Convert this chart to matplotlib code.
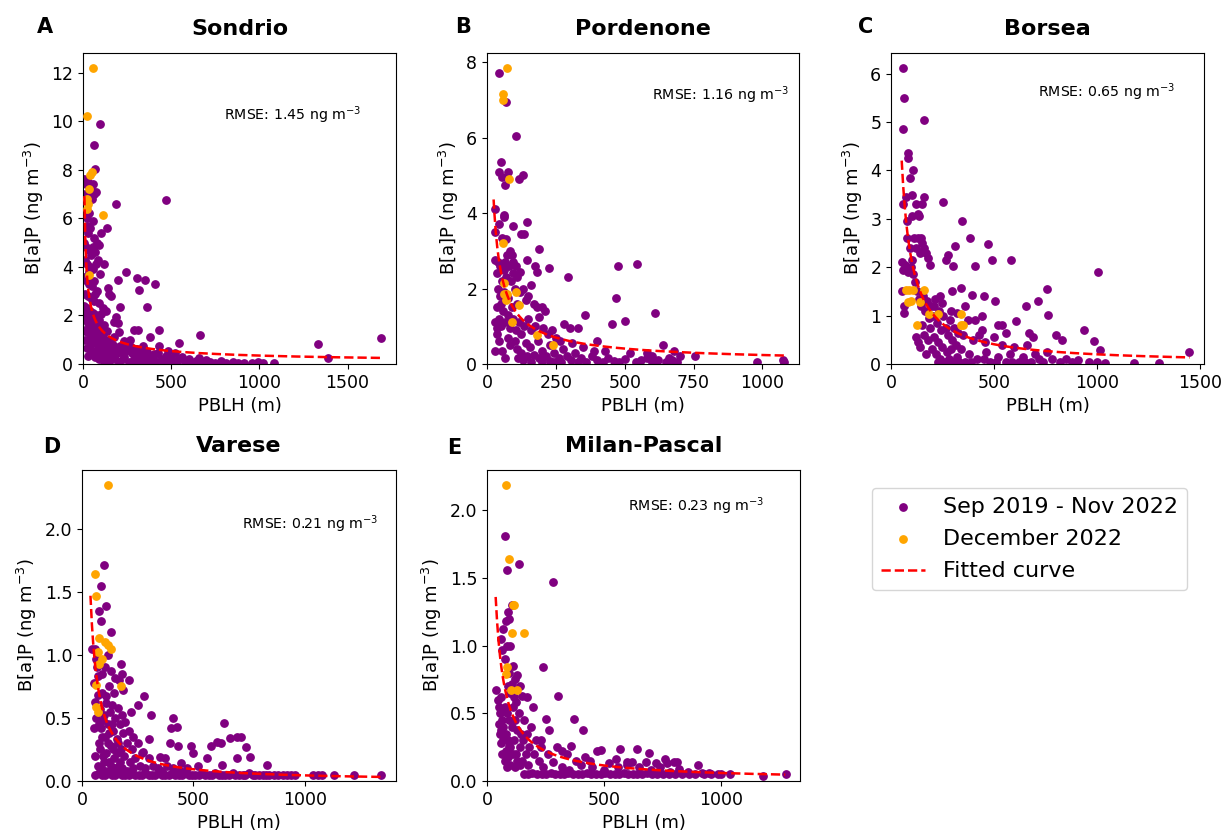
import numpy as np
import matplotlib
matplotlib.use('Agg')
import matplotlib.pyplot as plt

# stations / fit results
stations = ['Sondrio', 'Pordenone', 'Borsea', 'Varese', 'Milan-Pascal']
panel_letters = ['A', 'B', 'C', 'D', 'E']
rmse_values = [1.45, 1.16, 0.65, 0.21, 0.23]
# power-law fit  B[a]P = a * PBLH^b
fit_a = [25.1, 52.0, 246.0, 72.0, 42.0]
fit_b = [-0.62, -0.78, -1.03, -1.07, -0.95]
fit_x_range = [(8, 1690), (24, 1080), (52, 1451), (38, 1341), (37, 1274)]
x_ticks = [[0, 500, 1000, 1500], [0, 250, 500, 750, 1000], [0, 500, 1000, 1500],
           [0, 500, 1000], [0, 500, 1000]]

# (PBLH, B[a]P) pairs, Sep 2019 - Nov 2022
sondrio_main = [
    (97, 9.9), (62, 9.0), (68, 8.05), (470, 6.75), (185, 6.6), (135, 5.6), (100, 5.4), (75, 7.1), (55, 7.4),
    (245, 3.8), (200, 3.45), (305, 3.55), (350, 3.45), (410, 3.3), (320, 3.05), (140, 3.15), (150, 2.9),
    (160, 2.8), (360, 2.35), (210, 2.35), (185, 1.95), (200, 1.7), (290, 1.4), (310, 1.4), (430, 1.4),
    (380, 1.1), (430, 0.75), (545, 0.88), (665, 1.18), (1330, 0.82), (1690, 1.07), (1390, 0.25), (120, 4.1),
    (115, 2.3), (130, 2.2), (175, 1.75),
    (5, 7.6), (18, 7.4), (30, 7.5), (45, 7.2), (10, 7.0), (25, 6.9), (50, 6.8), (65, 7.0), (8, 6.3), (20, 6.0),
    (35, 6.2), (55, 5.9), (12, 5.6), (28, 5.4), (42, 5.6), (60, 5.2), (80, 5.0), (90, 4.9), (5, 5.0), (18, 4.8),
    (33, 4.7), (48, 4.5), (68, 4.6), (85, 4.3), (10, 4.3), (25, 4.1), (40, 4.0), (58, 3.9), (75, 4.1), (95, 3.7),
    (5, 3.6), (20, 3.4), (35, 3.3), (50, 3.2), (65, 3.4), (80, 3.0), (12, 2.9), (28, 2.8), (44, 2.7), (60, 2.6),
    (88, 2.5), (8, 2.4), (22, 2.3), (38, 2.2), (54, 2.1), (72, 2.0), (100, 2.05), (5, 1.9), (16, 1.8), (30, 1.7),
    (46, 1.6), (62, 1.75), (82, 1.55), (105, 1.5), (10, 1.4), (24, 1.3), (40, 1.25), (56, 1.35), (74, 1.2),
    (92, 1.1), (120, 1.05), (14, 1.0), (32, 0.95), (50, 0.9), (66, 0.85), (86, 0.8), (110, 0.75), (140, 0.85),
    (20, 0.65), (38, 0.6), (58, 0.55), (78, 0.5), (98, 0.45), (125, 0.4), (160, 0.55), (30, 0.35), (70, 0.3),
    (90, 0.2), (45, 1.1), (18, 2.1), (35, 3.8), (55, 4.8), (25, 5.7), (70, 2.9), (40, 1.9), (60, 1.45),
    (85, 1.3), (100, 1.0), (115, 1.25), (130, 0.65), (150, 0.35), (95, 0.7), (75, 0.9), (110, 0.3),
    (140, 0.55), (170, 0.8), (190, 0.45), (145, 1.0), (160, 0.25), (120, 1.6), (135, 1.35), (90, 1.8),
    (115, 0.15), (135, 0.25), (150, 0.1), (165, 0.4), (180, 0.2), (195, 0.65), (205, 0.1), (220, 0.5),
    (235, 0.3), (250, 0.8), (260, 0.1), (275, 0.45), (290, 0.2), (305, 0.6), (320, 0.1), (335, 0.35),
    (350, 0.15), (365, 0.5), (380, 0.05), (395, 0.25), (410, 0.1), (425, 0.45), (440, 0.2), (455, 0.05),
    (470, 0.35), (485, 0.12), (500, 0.25), (520, 0.05), (540, 0.15), (560, 0.3), (580, 0.08), (600, 0.2),
    (620, 0.05), (640, 0.12), (660, 0.25), (680, 0.05), (700, 0.15), (720, 0.08), (750, 0.05), (780, 0.12),
    (810, 0.05), (850, 0.08), (880, 0.04), (910, 0.06), (960, 0.04), (990, 0.07), (1020, 0.04), (1085, 0.05),
    (175, 1.1), (230, 0.95), (270, 0.7), (340, 0.75), (480, 0.55), (520, 0.45), (265, 1.0), (205, 1.3),
    (210, 0.75), (245, 0.55), (300, 0.35), (360, 0.3), (400, 0.4), (225, 0.2), (285, 0.05), (330, 0.55),
]
pordenone_main = [
    (45, 7.7), (70, 6.95), (105, 6.05), (50, 5.35), (45, 5.1), (55, 4.95), (75, 5.1), (115, 4.9), (130, 5.0),
    (65, 4.75), (30, 4.1), (60, 3.95), (62, 3.9), (95, 3.65), (145, 3.75), (28, 3.5), (45, 3.7), (125, 3.45),
    (133, 3.45), (190, 3.05), (55, 3.35), (28, 2.75), (475, 2.6), (545, 2.65), (295, 2.3), (225, 2.55),
    (470, 1.75), (610, 1.35), (500, 1.15), (455, 1.05), (355, 1.3), (280, 1.05), (300, 0.95), (330, 0.95),
    (400, 0.6), (640, 0.5), (680, 0.35), (755, 0.2), (980, 0.05), (1075, 0.1), (1080, 0.05), (175, 2.6),
    (180, 2.45), (145, 2.75), (95, 2.7),
    (35, 2.4), (40, 2.0), (48, 2.6), (52, 1.6), (60, 2.5), (68, 2.3), (72, 2.9), (80, 2.6), (88, 2.2), (95, 2.4),
    (100, 2.0), (110, 2.3), (120, 1.9), (130, 2.0), (140, 1.7), (150, 1.8), (160, 2.1), (170, 1.6), (180, 1.5),
    (200, 1.5), (210, 1.4), (35, 1.5), (42, 1.2), (50, 1.0), (58, 1.4), (65, 1.1), (75, 1.3), (85, 0.95),
    (95, 1.2), (105, 0.9), (115, 1.1), (125, 0.8), (135, 1.0), (150, 1.2), (160, 0.9), (175, 1.0), (190, 1.25),
    (205, 0.95), (220, 0.8), (235, 0.9), (250, 0.7), (265, 0.6), (35, 0.8), (45, 0.6), (55, 0.35), (65, 0.15),
    (75, 0.7), (85, 0.5), (100, 0.6), (110, 0.4), (125, 0.3), (140, 0.55), (155, 0.45), (170, 0.25), (185, 0.6),
    (200, 0.35), (215, 0.2), (230, 0.5), (245, 0.3), (260, 0.15), (275, 0.4), (290, 0.2), (305, 0.1), (320, 0.3),
    (340, 0.15), (360, 0.05), (380, 0.2), (400, 0.1), (420, 0.05), (440, 0.15), (460, 0.08), (480, 0.05),
    (500, 0.12), (520, 0.3), (540, 0.05), (560, 0.1), (580, 0.15), (600, 0.05), (620, 0.1), (650, 0.05),
    (670, 0.1), (690, 0.05), (130, 0.1), (160, 0.05), (190, 0.15), (230, 0.08), (270, 0.05), (310, 0.55),
    (350, 0.45), (390, 0.35), (430, 0.35), (30, 0.35), (47, 1.8), (62, 1.9), (78, 1.75), (92, 1.5), (108, 1.6),
    (55, 2.2), (40, 2.7), (70, 3.3), (85, 3.0), (65, 2.7), (90, 2.9), (105, 2.6), (120, 2.45), (38, 0.95),
    (30, 1.1), (112, 0.15), (145, 0.2), (245, 0.05), (200, 0.05), (330, 0.05), (580, 0.3), (600, 0.2),
    (700, 0.2), (660, 0.15),
]
borsea_main = [
    (60, 6.12), (65, 5.5), (58, 4.85), (160, 5.05), (85, 4.35), (83, 4.25), (105, 4.0), (92, 3.85), (75, 3.45),
    (100, 3.5), (60, 3.3), (120, 3.3), (158, 3.45), (150, 3.3), (138, 3.05), (102, 3.05), (80, 2.95),
    (255, 3.35), (345, 2.95), (385, 2.6), (470, 2.47), (310, 2.43), (275, 2.25), (265, 2.15), (300, 2.03),
    (410, 2.02), (490, 2.15), (585, 2.15), (1005, 1.9), (760, 1.55), (715, 1.3), (762, 1.02), (655, 1.2),
    (605, 0.88), (505, 1.3), (450, 1.4), (395, 1.43), (340, 1.58), (295, 1.5), (240, 1.4), (940, 0.7),
    (985, 0.48), (1015, 0.28), (1450, 0.24), (1180, 0.02), (1300, 0.03), (800, 0.6), (830, 0.5), (670, 0.65),
    (690, 0.55), (130, 3.1), (145, 2.6),
    (55, 2.1), (60, 1.95), (70, 2.05), (80, 2.6), (90, 2.4), (100, 2.15), (110, 2.6), (120, 2.4), (130, 2.6),
    (140, 2.3), (150, 2.5), (160, 2.4), (170, 2.3), (180, 2.2), (190, 2.05), (55, 1.5), (62, 1.2), (65, 1.05),
    (85, 1.9), (95, 2.0), (105, 1.85), (115, 1.7), (125, 1.5), (135, 1.35), (145, 1.2), (155, 1.4), (165, 1.1),
    (175, 1.3), (185, 0.95), (195, 1.2), (205, 1.0), (215, 1.35), (225, 0.85), (235, 1.1), (245, 0.7),
    (255, 1.0), (265, 0.75), (275, 0.6), (285, 0.9), (295, 0.5), (305, 0.75), (315, 0.4), (325, 0.65),
    (120, 0.55), (130, 0.45), (140, 0.35), (150, 0.8), (160, 0.6), (170, 0.2), (180, 0.5), (190, 0.75),
    (200, 0.3), (210, 0.55), (220, 0.2), (230, 0.45), (240, 0.1), (250, 0.35), (260, 0.05), (270, 0.25),
    (280, 0.1), (290, 0.3), (300, 0.05), (320, 0.15), (340, 0.3), (360, 0.05), (380, 0.2), (400, 0.5),
    (420, 0.1), (440, 0.7), (460, 0.25), (480, 0.05), (500, 0.55), (520, 0.15), (540, 0.4), (560, 0.05),
    (580, 0.2), (600, 0.35), (620, 0.05), (640, 0.15), (660, 0.4), (680, 0.05), (700, 0.2), (720, 0.1),
    (740, 0.05), (760, 0.25), (780, 0.1), (820, 0.05), (850, 0.1), (880, 0.05), (910, 0.08), (960, 0.05),
    (1000, 0.05), (1040, 0.03), (350, 0.6), (375, 0.9), (410, 0.9), (430, 0.6), (455, 0.45), (520, 0.8),
    (540, 0.8), (560, 0.65), (210, 1.2), (250, 1.25), (290, 1.1), (320, 1.05), (360, 1.2), (440, 1.0),
    (230, 0.05), (330, 0.05), (390, 0.05), (450, 0.1), (510, 0.05), (590, 0.05), (650, 0.05),
]
varese_main = [
    (100, 1.71), (85, 1.55), (78, 1.35), (110, 1.39), (85, 1.27), (130, 1.18), (115, 1.0), (60, 1.05),
    (45, 1.05), (175, 0.93), (210, 0.8), (185, 0.72), (280, 0.67), (250, 0.6), (310, 0.52), (410, 0.5),
    (400, 0.42), (425, 0.43), (640, 0.46), (695, 0.35), (665, 0.34), (715, 0.35), (735, 0.27), (755, 0.19),
    (830, 0.13), (490, 0.28), (500, 0.22), (580, 0.28), (605, 0.31), (625, 0.3), (560, 0.18), (520, 0.12),
    (630, 0.13), (695, 0.18), (300, 0.33), (275, 0.23), (395, 0.3), (430, 0.28), (375, 0.18), (445, 0.14),
    (350, 0.19), (180, 0.85), (165, 0.8), (90, 0.85), (105, 0.9), (130, 0.87), (150, 0.82), (70, 0.83),
    (55, 0.78), (62, 0.97), (68, 0.9), (120, 0.75), (145, 0.7), (108, 0.67),
    (55, 0.42), (60, 0.63), (65, 0.5), (70, 0.68), (75, 0.3), (80, 0.57), (85, 0.42), (90, 0.7), (95, 0.2),
    (100, 0.52), (105, 0.35), (110, 0.62), (115, 0.45), (120, 0.15), (125, 0.55), (130, 0.28), (135, 0.6),
    (140, 0.4), (145, 0.18), (150, 0.5), (155, 0.33), (160, 0.58), (165, 0.12), (170, 0.45), (175, 0.25),
    (180, 0.52), (185, 0.38), (190, 0.2), (195, 0.47), (200, 0.3), (210, 0.4), (215, 0.15), (220, 0.55),
    (225, 0.25), (230, 0.35), (240, 0.18), (250, 0.3), (260, 0.12), (270, 0.22), (285, 0.1), (300, 0.18),
    (320, 0.12), (340, 0.1), (360, 0.08), (380, 0.12), (410, 0.1), (440, 0.08), (470, 0.1), (60, 0.2),
    (70, 0.12), (80, 0.25), (90, 0.35), (100, 0.15), (110, 0.22), (120, 0.38), (130, 0.12), (140, 0.25),
    (150, 0.1), (160, 0.3), (170, 0.15), (180, 0.1), (75, 0.45), (95, 0.48), (115, 0.3), (135, 0.45),
    (155, 0.22), (85, 0.1), (105, 0.08), (200, 0.08), (230, 0.1),
    (60, 0.05), (76, 0.06), (91, 0.05), (104, 0.05), (121, 0.06), (136, 0.05), (149, 0.05), (166, 0.06),
    (181, 0.05), (194, 0.05), (211, 0.05), (226, 0.06), (239, 0.05), (256, 0.05), (271, 0.05), (284, 0.06),
    (301, 0.05), (316, 0.05), (329, 0.05), (346, 0.06), (361, 0.05), (374, 0.05), (391, 0.05), (406, 0.06),
    (419, 0.05), (436, 0.05), (451, 0.05), (464, 0.06), (481, 0.05), (496, 0.05), (509, 0.05), (526, 0.05),
    (541, 0.06), (554, 0.05), (571, 0.05), (586, 0.05), (599, 0.06), (616, 0.05), (631, 0.05), (644, 0.05),
    (661, 0.05), (676, 0.06), (689, 0.05), (706, 0.05), (721, 0.05), (734, 0.05), (751, 0.06), (766, 0.05),
    (779, 0.05), (796, 0.05), (811, 0.05), (826, 0.05), (842, 0.05), (861, 0.05), (879, 0.05), (902, 0.05),
    (921, 0.05), (939, 0.05), (958, 0.05), (1038, 0.05), (1059, 0.05), (1076, 0.05), (1130, 0.05),
    (1222, 0.05), (1345, 0.05),
]
milan_main = [
    (75, 1.81), (85, 1.56), (135, 1.6), (280, 1.47), (105, 1.3), (95, 1.2), (80, 1.18), (70, 1.12), (58, 1.05),
    (65, 0.97), (85, 1.0), (100, 1.0), (240, 0.84), (305, 0.63), (195, 0.55), (370, 0.46), (410, 0.38),
    (265, 0.38), (250, 0.46), (300, 0.25), (360, 0.26), (470, 0.22), (485, 0.23), (570, 0.24), (640, 0.24),
    (690, 0.21), (760, 0.16), (810, 0.14), (900, 0.12), (1275, 0.05), (1180, 0.04), (1000, 0.05), (1040, 0.05),
    (90, 1.25), (75, 0.9), (140, 0.7), (150, 0.63), (170, 0.62), (130, 0.78), (120, 0.75),
    (40, 0.67), (45, 0.6), (50, 0.55), (55, 0.5), (60, 0.62), (65, 0.45), (70, 0.4), (75, 0.55), (80, 0.35),
    (85, 0.5), (90, 0.3), (95, 0.45), (100, 0.25), (105, 0.4), (110, 0.55), (115, 0.3), (120, 0.45), (125, 0.2),
    (130, 0.38), (135, 0.5), (140, 0.25), (145, 0.35), (150, 0.15), (155, 0.3), (160, 0.45), (165, 0.2),
    (170, 0.35), (175, 0.12), (180, 0.25), (190, 0.4), (200, 0.2), (210, 0.3), (220, 0.15), (230, 0.25),
    (240, 0.1), (60, 0.28), (65, 0.2), (70, 0.3), (75, 0.15), (80, 0.22), (85, 0.1), (90, 0.18), (95, 0.26),
    (100, 0.12), (110, 0.2), (120, 0.1), (130, 0.15), (140, 0.12), (55, 0.35), (50, 0.42), (60, 0.38),
    (115, 0.62), (125, 0.58), (105, 0.72), (95, 0.8), (110, 0.85), (100, 0.65), (88, 0.7),
    (320, 0.1), (350, 0.08), (400, 0.12), (450, 0.1), (500, 0.08), (520, 0.13), (560, 0.1), (600, 0.12),
    (620, 0.14), (650, 0.1), (700, 0.08), (740, 0.1), (780, 0.07), (820, 0.09), (860, 0.07), (920, 0.06),
    (950, 0.06), (420, 0.18), (380, 0.15), (340, 0.2), (280, 0.14), (260, 0.2), (230, 0.3), (320, 0.22),
    (440, 0.15), (550, 0.16), (600, 0.14), (680, 0.14), (720, 0.13), (770, 0.13), (800, 0.14),
    (158, 0.05), (176, 0.05), (194, 0.06), (212, 0.05), (233, 0.05), (251, 0.05), (272, 0.06), (290, 0.05),
    (311, 0.05), (329, 0.05), (347, 0.06), (368, 0.05), (389, 0.05), (407, 0.05), (428, 0.06), (446, 0.05),
    (467, 0.05), (485, 0.05), (503, 0.06), (524, 0.05), (545, 0.05), (563, 0.05), (584, 0.06), (602, 0.05),
    (623, 0.05), (641, 0.05), (662, 0.05), (683, 0.06), (704, 0.05), (728, 0.05), (752, 0.05), (779, 0.05),
    (803, 0.05), (833, 0.05), (862, 0.05), (890, 0.05), (925, 0.05), (955, 0.05), (985, 0.05),
]

# December 2022
sondrio_dec = [(57, 12.2), (25, 10.2), (37, 7.8), (50, 7.9), (32, 7.2), (20, 6.8), (30, 6.6), (22, 6.4),
               (115, 6.15), (32, 3.65)]
pordenone_dec = [(73, 7.85), (58, 7.15), (58, 7.0), (80, 4.9), (58, 3.2), (60, 2.15), (63, 1.85), (68, 1.7),
                 (107, 1.9), (116, 1.55), (89, 1.12), (183, 0.77), (240, 0.5), (72, 1.85)]
borsea_dec = [(73, 1.53), (88, 1.53), (105, 1.52), (160, 1.52), (82, 1.29), (95, 1.3), (139, 1.29), (128, 0.8),
              (185, 1.03), (228, 1.03), (338, 1.03), (340, 0.8), (350, 0.8)]
varese_dec = [(117, 2.35), (57, 1.64), (62, 1.47), (77, 1.13), (104, 1.1), (132, 1.05), (72, 1.02), (77, 0.93),
              (90, 0.97), (177, 0.75), (62, 0.76), (62, 0.59), (72, 0.55), (115, 1.08)]
milan_dec = [(80, 2.19), (94, 1.64), (110, 1.3), (115, 1.3), (108, 1.09), (157, 1.09), (84, 0.84), (82, 0.79),
             (103, 0.67), (127, 0.67)]

main_sets = [sondrio_main, pordenone_main, borsea_main, varese_main, milan_main]
dec_sets = [sondrio_dec, pordenone_dec, borsea_dec, varese_dec, milan_dec]

# layout in pixels (left, top, right, bottom) of a 1224x836 canvas
W, H = 1224, 836
ax_boxes = [(83, 53, 396, 364), (487, 53, 799, 364), (891, 53, 1204, 364),
            (82, 470, 396, 781), (487, 470, 800, 781)]
letter_pos = [(37, 33), (455, 33), (858, 33), (43, 453), (447, 454)]
rmse_pos = [(0.45, 0.80), (0.53, 0.865), (0.47, 0.875), (0.51, 0.825), (0.45, 0.884)]

fig = plt.figure(figsize=(W / 100, H / 100), dpi=100)

axes = []
for i, name in enumerate(stations):
    l, t, r, b = ax_boxes[i]
    ax = fig.add_axes([l / W, 1 - b / H, (r - l) / W, (b - t) / H])
    axes.append(ax)

    xm, ym = np.array(main_sets[i]).T
    xd, yd = np.array(dec_sets[i]).T
    ax.scatter(xm, ym, s=28, color='purple', label='Sep 2019 - Nov 2022', zorder=2)
    ax.scatter(xd, yd, s=28, color='orange', label='December 2022', zorder=3)

    x0, x1 = fit_x_range[i]
    xf = np.linspace(x0, x1, 400)
    ax.plot(xf, fit_a[i] * xf ** fit_b[i], 'r--', lw=1.8, label='Fitted curve', zorder=4)

    ax.set_xticks(x_ticks[i])
    ax.set_xlim(left=0)
    ax.set_ylim(bottom=0)
    ax.set_xlabel('PBLH (m)', fontsize=13)
    ax.set_ylabel('B[a]P (ng m$^{-3}$)', fontsize=13)
    ax.tick_params(labelsize=12.5)
    ax.set_title(name, fontsize=16, fontweight='bold', pad=13)

    ax.text(rmse_pos[i][0], rmse_pos[i][1], f'RMSE: {rmse_values[i]:.2f} ng m$^{{-3}}$',
            transform=ax.transAxes, ha='left', va='center', fontsize=10.2)

    lx, ly = letter_pos[i]
    fig.text(lx / W, 1 - ly / H, panel_letters[i], fontsize=15, fontweight='bold',
             ha='left', va='baseline')

handles, labels = axes[0].get_legend_handles_labels()
fig.legend(handles, labels, loc='upper left', bbox_to_anchor=(872 / W, 1 - 488 / H),
           fontsize=16, borderaxespad=0, labelspacing=0.55)

fig.savefig('out.png', dpi=100)
